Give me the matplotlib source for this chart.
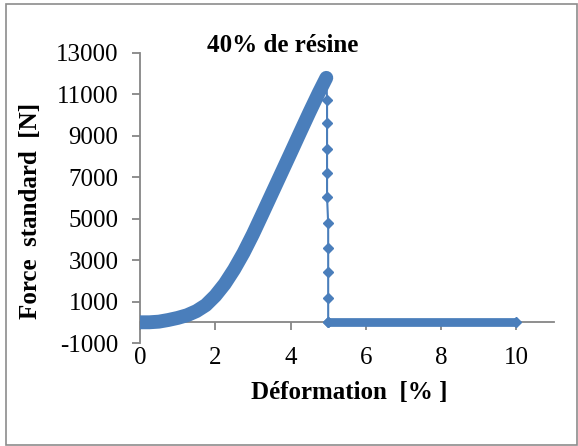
import matplotlib
matplotlib.use("Agg")
import matplotlib.pyplot as plt
from matplotlib.patches import Rectangle

# ---- data ----
strain_rise = [0, 0.25, 0.5, 0.75, 1.0, 1.25, 1.5, 1.75, 2.0, 2.25, 2.5, 2.75,
               3.0, 3.25, 3.5, 3.75, 4.0, 4.25, 4.5, 4.75, 4.95]
force_rise = [0, 0, 30, 110, 210, 340, 540, 830, 1280, 1850, 2550, 3350,
              4250, 5220, 6200, 7180, 8160, 9150, 10130, 11080, 11800]

strain_drop = [4.95, 4.97, 4.97, 4.97, 4.97, 4.97, 5.0, 5.0, 5.0, 5.0, 5.0]
force_drop = [11800, 10730, 9610, 8350, 7190, 6050, 4770, 3580, 2420, 1160, 0]

strain_tail = [5.0, 6.0, 7.0, 8.0, 9.0, 10.0]
force_tail = [0, 0, 0, 0, 0, 0]

x_ticks = [0, 2, 4, 6, 8, 10]
y_ticks = [-1000, 1000, 3000, 5000, 7000, 9000, 11000, 13000]

title = "40% de résine"
xlabel = "Déformation  [% ]"
ylabel = "Force  standard  [N]"

BLUE = "#4a7ebb"
GREY = "#868686"
SERIF = ["Liberation Serif", "DejaVu Serif"]

W, H = 578, 446
fig = plt.figure(figsize=(W / 100, H / 100), dpi=100)
fig.patch.set_facecolor("white")

# chart border
fig.add_artist(Rectangle((6 / W, 1 - 445 / H), (577 - 6) / W, (445 - 4) / H,
                         transform=fig.transFigure, fill=False,
                         edgecolor="#8c8c8c", linewidth=1.2))

ax = fig.add_axes([140 / W, 1 - 343 / H, 414 / W, 290 / H])
ax.set_xlim(0, 11)
ax.set_ylim(-1000, 13000)
for s in ["top", "right", "bottom"]:
    ax.spines[s].set_visible(False)
ax.spines["left"].set_color(GREY)
ax.spines["left"].set_linewidth(1.3)

ax.set_yticks(y_ticks)
ax.set_yticklabels([str(v) for v in y_ticks])
ax.tick_params(axis="y", direction="out", length=5.5, width=1.3, color=GREY,
               pad=10, labelsize=18)
ax.set_xticks(x_ticks)
ax.set_xticklabels([str(v) for v in x_ticks])
ax.tick_params(axis="x", length=0, pad=3, labelsize=18)
for lab in ax.get_xticklabels() + ax.get_yticklabels():
    lab.set_family(SERIF)

# horizontal axis line at y = 0 with tick marks
sec = ax.secondary_xaxis(1000 / 14000)
sec.set_xticks(x_ticks)
sec.tick_params(axis="x", direction="out", length=5.5, width=1.3, color=GREY,
                labelbottom=False, labeltop=False)
for s in sec.spines.values():
    s.set_color(GREY)
    s.set_linewidth(1.3)

# data
ax.plot(strain_rise, force_rise, color=BLUE, lw=10, solid_capstyle="round",
        solid_joinstyle="round", zorder=3)
ax.plot(strain_rise[:1], force_rise[:1], "D", color=BLUE, ms=5, zorder=3)
ax.plot(strain_drop, force_drop, color=BLUE, lw=1.5, marker="D", ms=5,
        zorder=3)
ax.plot(strain_tail, force_tail, color=BLUE, lw=6.3, solid_capstyle="butt",
        zorder=3)
ax.plot([strain_tail[0], strain_tail[-1]], [force_tail[0], force_tail[-1]],
        "D", color=BLUE, ms=5, lw=0, zorder=3)

# texts
fig.text(283 / W, 1 - 46 / H, title, ha="center", va="center",
         family=SERIF, fontweight="bold", fontsize=18)
fig.text(349 / W, 1 - 392 / H, xlabel, ha="center", va="center",
         family=SERIF, fontweight="bold", fontsize=18)
fig.text(31 / W, 1 - 211 / H, ylabel, ha="center", va="center", rotation=90,
         family=SERIF, fontweight="bold", fontsize=18)

fig.savefig("out.png", dpi=100)
